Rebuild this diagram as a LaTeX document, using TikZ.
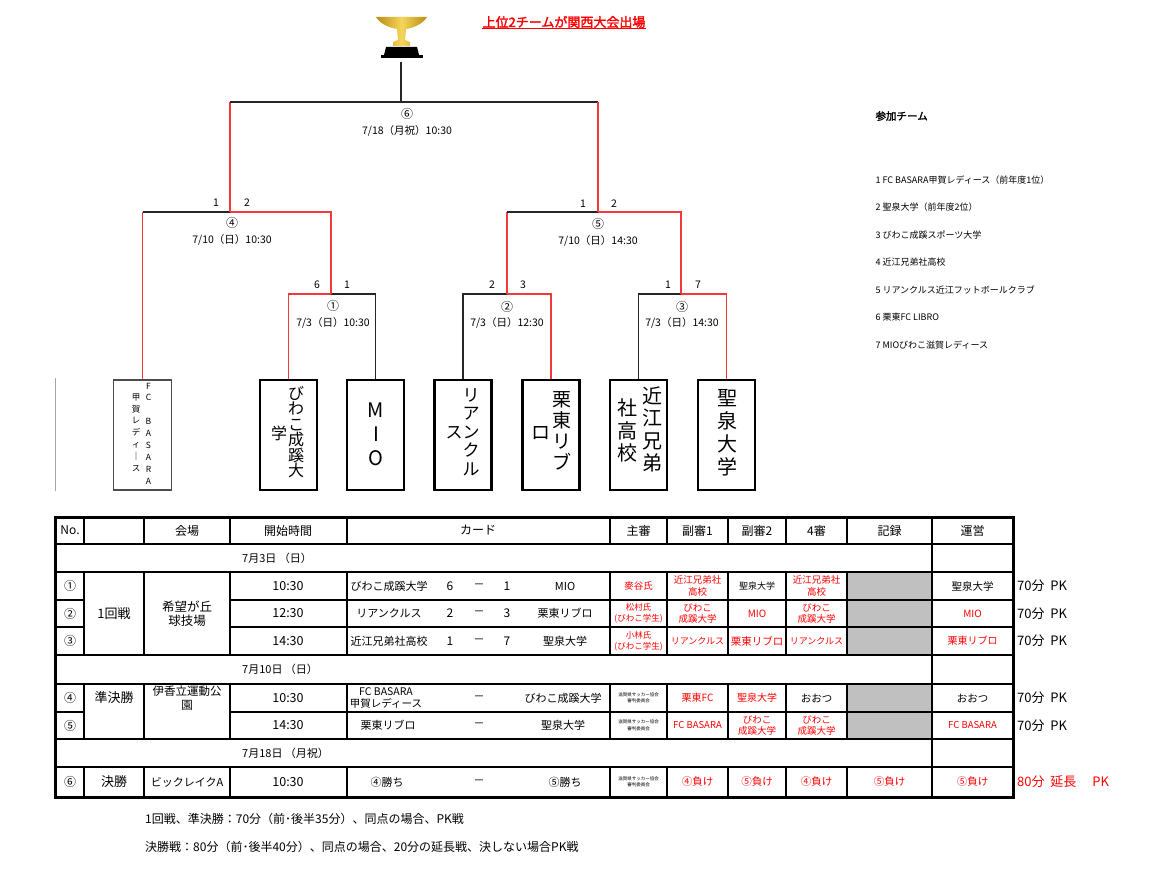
\documentclass[tikz,border=0pt]{standalone}
\usepackage{fontspec}
\setmainfont{Noto Sans CJK JP}[AutoFakeBold=2]
\definecolor{winred}{HTML}{F23A3A}
\definecolor{txtred}{HTML}{FF0000}
\definecolor{cellgray}{HTML}{C0C0C0}
\definecolor{gold}{HTML}{F5D65A}
\definecolor{golddark}{HTML}{B88C14}
\newcommand{\fsz}[2]{\fontsize{#1}{#2}\selectfont}
\tikzset{team/.style={draw, line width=2.4pt, minimum width=57pt, minimum height=110pt, inner sep=0pt},
  win/.style={draw=winred, line width=1.3pt},
  lose/.style={draw=black!85, line width=1.3pt},
  tate/.style={align=center, inner sep=0pt},
  cell/.style={align=center, inner sep=0pt, font=\fsz{11}{13}},
  refr/.style={cell, text=txtred, font=\fsz{9.5}{11.5}},
  refb/.style={cell, font=\fsz{9.5}{11.5}},
  tiny/.style={cell, font=\fsz{4.5}{6.5}},
  grid/.style={line width=1.8pt}}

\begin{document}
\begin{tikzpicture}[x=1pt, y=-1pt]
        \useasboundingbox (0,0) rectangle (1159,883);
        \fill[white] (0,0) rectangle (1159,883);

        % trophy
        \shade[left color=golddark, right color=golddark, middle color=gold] (376,17) .. controls (381,25) and (391,28) .. (397,29) -- (398,40) -- (393,42) -- (393,46) -- (410,46) -- (410,42) -- (405,40) -- (406,29) .. controls (412,28) and (422,25) .. (427,17) -- cycle;
        \fill[black] (386,47) -- (417,47) -- (419,55) -- (384,55) -- cycle;
        \fill[black] (381,55) rectangle (423,58);
        \coordinate (cup) at (401,62);
        \node[text=txtred, font=\bfseries\fsz{13}{15}, inner sep=0.5pt] (title) at (564,22) {上位2チームが関西大会出場};
        \draw[txtred, line width=0.8pt] (title.south west) -- (title.south east);

        % teams
        \node[team, draw=black!70, line width=1.8pt, minimum width=58pt] (basara) at (142.5,435) {};
        \node[team] (biwako) at (288.5,435) {};
        \node[team] (mio) at (375.5,435) {};
        \node[team] (rian) at (463,435) {};
        \node[team] (ritto) at (551,435) {};
        \node[team] (omi) at (638.5,435) {};
        \node[team] (seisen) at (726.5,435) {};
        \draw[black!35, line width=0.8pt] (55,378) -- (55,491);

        \node[tate, font=\fsz{8.5}{11.9}] (basR) at (148.5,433.5) {F\\C\\\mbox{}\\B\\A\\S\\A\\R\\A};
        \node[tate, font=\fsz{8.5}{11.8}] (basL) at (136,432.5) {甲\\賀\\レ\\デ\\ィ\\｜\\ス};
        \node[tate, font=\fsz{16}{15.4}] (biwR) at (296,432) {び\\わ\\こ\\成\\蹊\\大};
        \node[tate, font=\fsz{16}{16}] (biwL) at (279,433) {学};
        \node[tate, font=\fsz{20}{24}] (mioT) at (376,434) {M\\I\\O};
        \node[tate, font=\fsz{17}{18.5}] (rianR) at (471,432) {リ\\ア\\ン\\ク\\ル};
        \node[tate, font=\fsz{17}{18}] (rianL) at (454,433) {ス};
        \node[tate, font=\fsz{19}{21}] (ritR) at (562,431) {栗\\東\\リ\\ブ};
        \node[tate, font=\fsz{19}{21}] (ritL) at (541,433) {ロ};
        \node[tate, font=\fsz{20}{22.5}] (omiR) at (652,429.5) {近\\江\\兄\\弟};
        \node[tate, font=\fsz{20}{22.5}] (omiL) at (627,430.5) {社\\高\\校};
        \node[tate, font=\fsz{20}{23}] (seiT) at (727,432.5) {聖\\泉\\大\\学};

        % bracket
        \coordinate (g1) at (331,294);
        \coordinate (g2) at (507,294);
        \coordinate (g3) at (681,294);
        \coordinate (g4) at (230,212);
        \coordinate (g5) at (598,212);
        \coordinate (g6) at (401,102);

        \draw[win] (biwako.north) |- (g1);
        \draw[lose] (mio.north) |- (g1);
        \draw[lose] (rian.north) |- (g2);
        \draw[win] (ritto.north) |- (g2);
        \draw[lose] (omi.north) |- (g3);
        \draw[win] (seisen.north) |- (g3);
        \draw[win] (basara.north) -- (basara.north |- g4);
        \draw[lose] (basara.north |- g4) -- (g4);
        \draw[win] (g1) |- (g4);
        \draw[win] (g2) -- (g2 |- g5);
        \draw[lose] (g2 |- g5) -- (g5);
        \draw[win] (g3) |- (g5);
        \draw[win] (g4) -- (g4 |- g6);
        \draw[lose] (g4 |- g6) -- (g6) -- (g5 |- g6);
        \draw[win] (g5 |- g6) -- (g5);
        \draw[lose] (cup) -- (g6);

        \node[font=\fsz{12}{14}] (m6) at (407,114) {⑥};
        \node[font=\fsz{10.5}{12}] (d6) at (407,131) {7/18（月祝）10:30};
        \node[font=\fsz{12}{14}] (m4) at (232,223) {④};
        \node[font=\fsz{10.5}{12}] (d4) at (232,240) {7/10（日）10:30};
        \node[font=\fsz{12}{14}] (m5) at (598,224) {⑤};
        \node[font=\fsz{10.5}{12}] (d5) at (598,241) {7/10（日）14:30};
        \node[font=\fsz{12}{14}] (m1) at (333,306) {①};
        \node[font=\fsz{10.5}{12}] (d1) at (333,323) {7/3（日）10:30};
        \node[font=\fsz{12}{14}] (m2) at (507,307) {②};
        \node[font=\fsz{10.5}{12}] (d2) at (507,323) {7/3（日）12:30};
        \node[font=\fsz{12}{14}] (m3) at (682,307) {③};
        \node[font=\fsz{10.5}{12}] (d3) at (682,323) {7/3（日）14:30};

        \foreach \x/\y/\t [count=\i] in {216/203/1, 247/203/2, 583/204/1, 614/204/2, 317/285/6, 347/285/1, 492/285/2, 523/285/3, 668/285/1, 698/285/7}
            \node[font=\fsz{10.5}{12}] (sc\i) at (\x,\y) {\t};

        % list of teams
        \node[anchor=west, font=\bfseries\fsz{10.5}{12}] (sanka) at (872,116) {参加チーム};
        \foreach \y/\t [count=\i] in {180/1 FC BASARA甲賀レディース（前年度1位）, 207.5/2 聖泉大学（前年度2位）, 235/3 びわこ成蹊スポーツ大学, 262/4 近江兄弟社高校, 290/5 リアンクルス近江フットボールクラブ, 317.5/6 栗東FC LIBRO, 345/7 MIOびわこ滋賀レディース}
            \node[anchor=west, font=\fsz{9}{10}] (p\i) at (872,\y) {\t};

        % table
        \fill[cellgray] (847,572) rectangle (932,655);
        \fill[cellgray] (847,684) rectangle (932,739);
        \foreach \y in {544,572,655,684,739,767}
            \draw[grid] (55,\y) -- (1013,\y);
        \foreach \y in {600,627,712} {
            \draw[grid] (55,\y) -- (84,\y);
            \draw[grid] (230,\y) -- (1013,\y);
        }
        \foreach \x in {84,144,230,347,610,667,728,786,847} {
            \draw[grid] (\x,517) -- (\x,544);
            \draw[grid] (\x,572) -- (\x,655);
            \draw[grid] (\x,684) -- (\x,739);
            \draw[grid] (\x,767) -- (\x,797);
        }
        \draw[grid] (932,517) -- (932,797);
        \draw[line width=3pt] (55,517) rectangle (1013,797);

        \foreach \x/\t [count=\i] in {70/No., 187/会場, 288/開始時間, 478/カード, 638.5/主審, 697.5/副審1, 757/副審2, 816.5/4審, 889.5/記録, 972.5/運営}
            \node[cell, font=\fsz{12}{14}] (h\i) at (\x,530.5) {\t};
        \node[cell, anchor=west] (day1) at (242,558) {7月3日 （日）};
        \node[cell, anchor=west] (day2) at (242,669.5) {7月10日 （日）};
        \node[cell, anchor=west] (day3) at (242,753) {7月18日 （月祝）};

        \foreach \y/\n/\t [count=\i] in {586/①/10:30, 613.5/②/12:30, 641/③/14:30, 698/④/10:30, 725.5/⑤/14:30, 782/⑥/10:30} {
            \node[cell, font=\fsz{12}{14}] (no\i) at (70,\y) {\n};
            \node[cell, font=\fsz{12.5}{14}] (tm\i) at (288,\y) {\t};
        }
        \node[cell, font=\fsz{13}{15}] (rd1) at (114,614) {1回戦};
        \node[cell, font=\fsz{13}{15}] (rd2) at (114,698) {準決勝};
        \node[cell, font=\fsz{13}{15}] (rd3) at (114,782) {決勝};
        \node[cell, font=\fsz{12.5}{14}] (vn1) at (187,614) {希望が丘\\球技場};
        \node[cell, font=\fsz{11.5}{14}] (vn2) at (187,698) {伊香立運動公\\園};
        \node[cell] (vn3) at (187,782) {ビックレイクA};

        % cards
        \foreach \y/\a/\p/\q/\b [count=\i] in {586/びわこ成蹊大学/6/1/MIO, 613.5/リアンクルス/2/3/栗東リブロ, 641/近江兄弟社高校/1/7/聖泉大学} {
            \node[cell] (ca\i) at (389,\y) {\a};
            \node[cell, font=\fsz{12}{14}] (cp\i) at (450,\y) {\p};
            \node[cell] (cm\i) at (479,\y) {－};
            \node[cell, font=\fsz{12}{14}] (cq\i) at (507,\y) {\q};
            \node[cell] (cb\i) at (565,\y) {\b};
        }
        \node[cell, font=\fsz{10.5}{11.5}] (ca4) at (386,698) {FC BASARA\\甲賀レディース};
        \node[cell] (cm4) at (479,698) {－};
        \node[cell] (cb4) at (563,698) {びわこ成蹊大学};
        \node[cell] (ca5) at (388,725.5) {栗東リブロ};
        \node[cell] (cm5) at (479,725.5) {－};
        \node[cell] (cb5) at (563,725.5) {聖泉大学};
        \node[cell] (ca6) at (387,782) {④勝ち};
        \node[cell] (cm6) at (479,782) {－};
        \node[cell] (cb6) at (565,782) {⑤勝ち};

        % referees
        \node[refr] (r1a) at (638.5,586) {麥谷氏};
        \node[refr] (r1b) at (697.5,586) {近江兄弟社\\高校};
        \node[refb, font=\fsz{9}{11}] (r1c) at (757,586) {聖泉大学};
        \node[refr] (r1d) at (816.5,586) {近江兄弟社\\高校};
        \node[refb, font=\fsz{10.5}{12}] (r1f) at (972.5,586) {聖泉大学};

        \node[refr, font=\fsz{8.5}{11}] (r2a) at (638.5,613.5) {松村氏\\(びわこ学生)};
        \node[refr] (r2b) at (697.5,613.5) {びわこ\\成蹊大学};
        \node[refr, font=\fsz{10}{12}] (r2c) at (757,613.5) {MIO};
        \node[refr] (r2d) at (816.5,613.5) {びわこ\\成蹊大学};
        \node[refr, font=\fsz{10}{12}] (r2f) at (972.5,613.5) {MIO};

        \node[refr, font=\fsz{8.5}{11}] (r3a) at (638.5,641) {小林氏\\(びわこ学生)};
        \node[refr, font=\fsz{9}{11}] (r3b) at (697.5,641) {リアンクルス};
        \node[refr, font=\fsz{10.5}{12}] (r3c) at (757,641) {栗東リブロ};
        \node[refr, font=\fsz{9}{11}] (r3d) at (816.5,641) {リアンクルス};
        \node[refr, font=\fsz{10}{12}] (r3f) at (972.5,641) {栗東リブロ};

        \foreach \y [count=\i] in {698,725.5,782}
            \node[tiny] (sh\i) at (638.5,\y) {滋賀県サッカー協会\\審判委員会};
        \node[refr, font=\fsz{10}{12}] (r4b) at (697.5,698) {栗東FC};
        \node[refr, font=\fsz{10}{12}] (r4c) at (757,698) {聖泉大学};
        \node[refb, font=\fsz{10.5}{12}] (r4d) at (816.5,698) {おおつ};
        \node[refb, font=\fsz{10.5}{12}] (r4f) at (972.5,698) {おおつ};

        \node[refr, font=\fsz{9.5}{12}] (r5b) at (697.5,725.5) {FC BASARA};
        \node[refr] (r5c) at (757,725.5) {びわこ\\成蹊大学};
        \node[refr] (r5d) at (816.5,725.5) {びわこ\\成蹊大学};
        \node[refr, font=\fsz{9.5}{12}] (r5f) at (972.5,725.5) {FC BASARA};

        \foreach \x/\t [count=\i] in {697.5/④負け, 757/⑤負け, 816.5/④負け, 889.5/⑤負け, 972.5/⑤負け}
            \node[refr, font=\fsz{10.5}{12}] (r6\i) at (\x,782) {\t};

        % match length
        \foreach \y [count=\i] in {586,613.5,641,698,725.5}
            \node[anchor=west, inner sep=0pt, font=\fsz{13}{15}] (pk\i) at (1017,\y) {70分\ \ PK};
        \node[anchor=west, inner sep=0pt, text=txtred, font=\fsz{13}{15}] (pk6) at (1017,782) {80分\ \ 延長\quad\ PK};

        % notes
        \node[anchor=west, inner sep=0pt, font=\fsz{12}{14}] (note1) at (145,819) {1回戦、準決勝：70分（前･後半35分）、同点の場合、PK戦};
        \node[anchor=west, inner sep=0pt, font=\fsz{12}{14}] (note2) at (145,847) {決勝戦：80分（前･後半40分）、同点の場合、20分の延長戦、決しない場合PK戦};
    \end{tikzpicture}
\end{document}
